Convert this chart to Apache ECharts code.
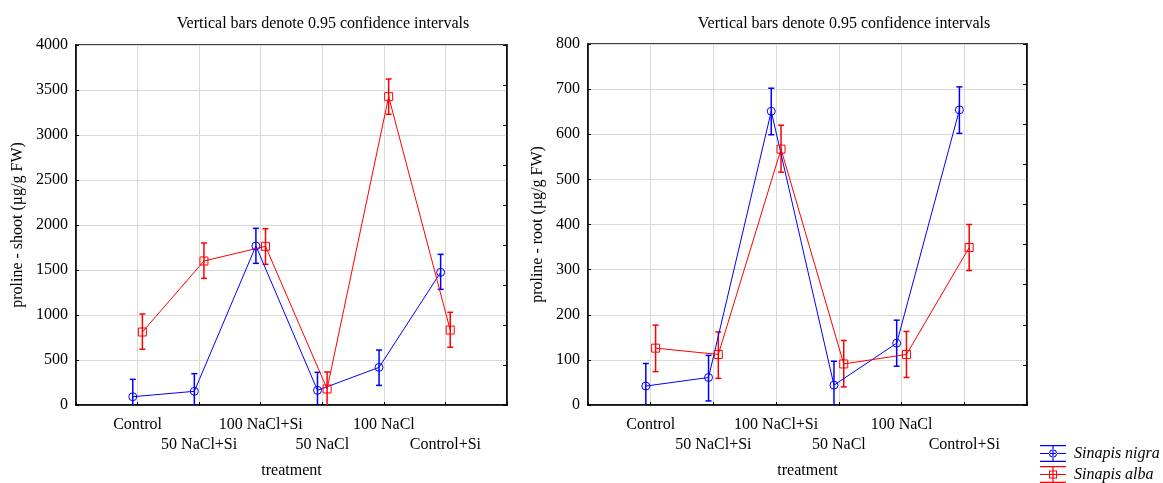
<!DOCTYPE html>
<html>
<head>
<meta charset="utf-8">
<script src="https://cdn.jsdelivr.net/npm/echarts@6/dist/echarts.min.js"></script>
<style>
  html, body { margin: 0; padding: 0; background: #fff; }
  #chart { width: 1163px; height: 483px; }
</style>
</head>
<body>
<div id="chart"></div>
<script>
// treatments, in plotting order
const treatments = ['Control', '50 NaCl+Si', '100 NaCl+Si', '50 NaCl', '100 NaCl', 'Control+Si'];
const speciesNames = ['Sinapis nigra', 'Sinapis alba'];

// proline - shoot (ug/g FW): means and 0.95 CI bounds
const shootNigra     = [92, 152, 1767, 163, 418, 1474];
const shootNigraLow  = [-104, -44, 1574, -37, 218, 1285];
const shootNigraHigh = [285, 348, 1963, 363, 611, 1674];
const shootAlba      = [811, 1600, 1763, 178, 3426, 833];
const shootAlbaLow   = [619, 1407, 1563, -11, 3230, 641];
const shootAlbaHigh  = [1011, 1800, 1959, 367, 3622, 1030];

// proline - root (ug/g FW)
const rootNigra     = [42, 61, 651, 44, 137, 654];
const rootNigraLow  = [-8, 9, 599, -7, 86, 602];
const rootNigraHigh = [92, 110, 702, 97, 188, 705];
const rootAlba      = [126, 112, 567, 91, 112, 349];
const rootAlbaLow   = [74, 59, 516, 40, 61, 298];
const rootAlbaHigh  = [177, 162, 620, 143, 163, 400];

const FONT = '"Liberation Serif", "DejaVu Serif", serif';
const BLUE = '#0000ff';
const RED = '#ff0000';
// small sideways shift so the two species don't overlap
const SHIFT = 0.078;

// legend icons: error bar with caps + marker (ring cut out)
const circleIcon = 'path://M0 0H26V1.2H0Z M0 15.8H26V17H0Z M0 7.9H26V9.1H0Z M12.4 0H13.6V17H12.4Z ' +
    'M17 8.5A4 4 0 1 0 9 8.5A4 4 0 1 0 17 8.5Z M16 8.5A3 3 0 1 1 10 8.5A3 3 0 1 1 16 8.5Z';
const squareIcon = 'path://M0 0H26V1.2H0Z M0 15.8H26V17H0Z M0 7.9H26V9.1H0Z M12.4 0H13.6V17H12.4Z ' +
    'M9 4.5H17V12.5H9Z M10 5.5V11.5H16V5.5Z';

function points(vals, shift) {
    return vals.map((v, i) => [i + 1 + shift, v]);
}
function bars(lo, hi, shift) {
    return lo.map((l, i) => [i + 1 + shift, l, hi[i]]);
}

function renderErrorBar(params, api) {
    const x = api.value(0);
    const lo = api.coord([x, api.value(1)]);
    const hi = api.coord([x, api.value(2)]);
    const cap = 3;
    const style = { stroke: api.visual('color'), lineWidth: 1.5 };
    return {
        type: 'group',
        children: [
            { type: 'line', shape: { x1: lo[0], y1: lo[1], x2: hi[0], y2: hi[1] }, style },
            { type: 'line', shape: { x1: hi[0] - cap, y1: hi[1], x2: hi[0] + cap, y2: hi[1] }, style },
            { type: 'line', shape: { x1: lo[0] - cap, y1: lo[1], x2: lo[0] + cap, y2: lo[1] }, style }
        ]
    };
}

function lineSeries(name, vals, shift, idx, symbol, color) {
    return {
        name, type: 'line', xAxisIndex: idx, yAxisIndex: idx * 2,
        data: points(vals, shift),
        symbol, symbolSize: 8, z: 3,
        lineStyle: { color, width: 1 },
        itemStyle: { color: 'transparent', borderColor: color, borderWidth: 1 },
        emphasis: { disabled: true },
        animation: false
    };
}
function barSeries(name, lo, hi, shift, idx, color) {
    return {
        name, type: 'custom', xAxisIndex: idx, yAxisIndex: idx * 2,
        data: bars(lo, hi, shift),
        renderItem: renderErrorBar,
        encode: { x: 0, y: [1, 2] },
        itemStyle: { color },
        clip: true, z: 2,
        animation: false
    };
}

function xAxis(idx) {
    return {
        type: 'value', gridIndex: idx, min: 0, max: 7, interval: 1,
        name: 'treatment', nameLocation: 'middle', nameGap: 58, nameMoveOverlap: false,
        nameTextStyle: { fontFamily: FONT, fontSize: 16, color: '#000' },
        axisLine: { lineStyle: { color: '#000', width: 1.5 } },
        axisTick: { show: true, inside: true, length: 3, lineStyle: { color: '#000' } },
        splitLine: { show: true, lineStyle: { color: '#d9d9d9', width: 1 } },
        axisLabel: {
            fontFamily: FONT, fontSize: 16, color: '#000', margin: 10, lineHeight: 20,
            formatter: v => {
                const i = Math.round(v) - 1;
                if (i < 0 || i >= treatments.length) return '';
                return (i % 2 === 1 ? '\n' : '') + treatments[i];
            }
        }
    };
}
function yAxes(idx, max, interval, name, gap) {
    return [{
        type: 'value', gridIndex: idx, min: 0, max, interval,
        name, nameLocation: 'middle', nameGap: gap, nameMoveOverlap: false,
        nameTextStyle: { fontFamily: FONT, fontSize: 16, color: '#000' },
        axisLine: { show: true, lineStyle: { color: '#000', width: 1.5 } },
        axisTick: { show: true, inside: true, length: 3, lineStyle: { color: '#000' } },
        splitLine: { show: true, lineStyle: { color: '#d9d9d9', width: 1 } },
        axisLabel: { fontFamily: FONT, fontSize: 16, color: '#000', margin: 8, formatter: v => String(v) }
    }, {
        type: 'value', gridIndex: idx, position: 'right', min: 0, max, interval: max / 9,
        axisLine: { show: true, lineStyle: { color: '#000', width: 1.5 } },
        axisTick: { show: true, inside: true, length: 4, lineStyle: { color: '#000' } },
        splitLine: { show: false },
        axisLabel: { show: false }
    }];
}

const titleStyle = { fontFamily: FONT, fontSize: 16, fontWeight: 'normal', color: '#000' };

const chart = echarts.init(document.getElementById('chart'), null, { renderer: 'canvas' });
chart.setOption({
    backgroundColor: '#fff',
    animation: false,
    title: [
        { text: 'Vertical bars denote 0.95 confidence intervals', left: 318, top: 11, textAlign: 'center', textStyle: titleStyle },
        { text: 'Vertical bars denote 0.95 confidence intervals', left: 839, top: 11, textAlign: 'center', textStyle: titleStyle }
    ],
    grid: [
        { left: 76, top: 45, width: 431, height: 360, show: true, borderColor: '#000', borderWidth: 1.5, outerBoundsMode: 'none' },
        { left: 588, top: 44, width: 439, height: 361, show: true, borderColor: '#000', borderWidth: 1.5, outerBoundsMode: 'none' }
    ],
    legend: {
        orient: 'vertical', left: 1040, top: 445, padding: 0,
        itemWidth: 26, itemHeight: 17, itemGap: 4,
        selectedMode: false,
        textStyle: { fontFamily: FONT, fontSize: 16, fontStyle: 'italic', color: '#000', padding: [0, 0, 0, 3] },
        data: [
            { name: speciesNames[0], icon: circleIcon, itemStyle: { color: BLUE, borderWidth: 0 } },
            { name: speciesNames[1], icon: squareIcon, itemStyle: { color: RED, borderWidth: 0 } }
        ]
    },
    xAxis: [xAxis(0), xAxis(1)],
    yAxis: [
        ...yAxes(0, 4000, 500, 'proline - shoot (\u00b5g/g FW)', 50),
        ...yAxes(1, 800, 100, 'proline - root (\u00b5g/g FW)', 42)
    ],
    series: [
        barSeries(speciesNames[0], shootNigraLow, shootNigraHigh, -SHIFT, 0, BLUE),
        barSeries(speciesNames[1], shootAlbaLow, shootAlbaHigh, SHIFT, 0, RED),
        lineSeries(speciesNames[0], shootNigra, -SHIFT, 0, 'circle', BLUE),
        lineSeries(speciesNames[1], shootAlba, SHIFT, 0, 'rect', RED),
        barSeries(speciesNames[0], rootNigraLow, rootNigraHigh, -SHIFT, 1, BLUE),
        barSeries(speciesNames[1], rootAlbaLow, rootAlbaHigh, SHIFT, 1, RED),
        lineSeries(speciesNames[0], rootNigra, -SHIFT, 1, 'circle', BLUE),
        lineSeries(speciesNames[1], rootAlba, SHIFT, 1, 'rect', RED)
    ]
});
</script>
</body>
</html>
